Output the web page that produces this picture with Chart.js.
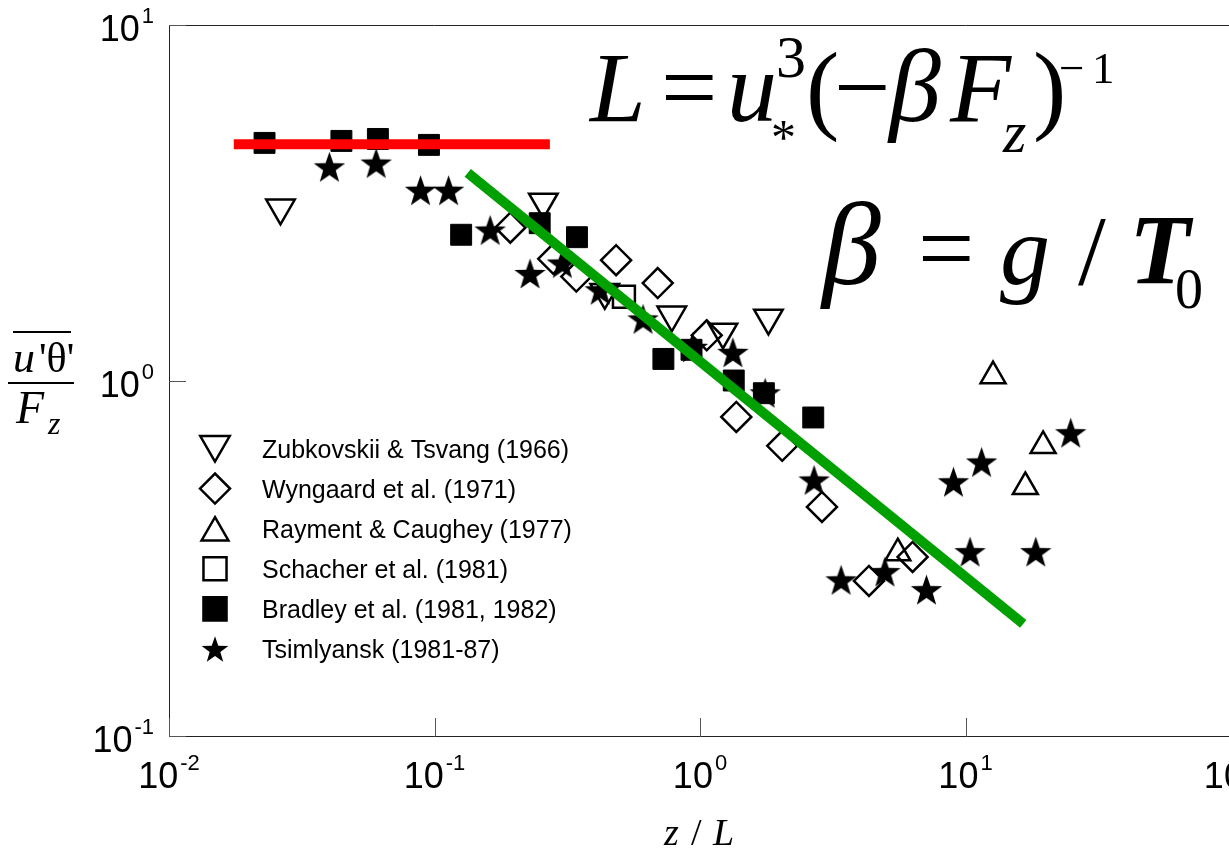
<!DOCTYPE html>
<html>
<head>
<meta charset="utf-8">
<script src="https://cdn.jsdelivr.net/npm/chart.js@4.4.1/dist/chart.umd.min.js"></script>
<style>
  html, body { margin: 0; padding: 0; background: #fff; overflow: hidden; }
  #wrap { width: 1229px; height: 852px; overflow: hidden; }
</style>
</head>
<body>
<div id="wrap"><canvas id="fluxChart" width="1250" height="852"></canvas></div>
<script>
// z/L and u'θ'/Fz, one pair of arrays per data source
var zubX = [0.0263, 0.257, 0.438, 0.783, 1.22, 1.81];
var zubY = [3.06, 3.18, 1.77, 1.53, 1.37, 1.50];

var wynX = [0.193, 0.280, 0.342, 0.483, 0.693, 1.06, 1.37, 2.04, 2.88, 4.33, 6.32];
var wynY = [2.69, 2.20, 1.96, 2.18, 1.88, 1.34, 0.790, 0.655, 0.441, 0.273, 0.319];

var rayX = [5.56, 12.7, 16.8, 19.6];
var rayY = [0.327, 1.03, 0.502, 0.655];

var schX = [0.517];
var schY = [1.72];

var braX = [0.0229, 0.0446, 0.0612, 0.0953, 0.126, 0.249, 0.344, 0.728, 0.929, 1.34, 1.74, 2.67];
var braY = [4.66, 4.72, 4.78, 4.60, 2.57, 2.77, 2.53, 1.15, 1.22, 1.00, 0.921, 0.787];

var tsiX = [0.0402, 0.0603, 0.0886, 0.113, 0.162, 0.229, 0.303, 0.421, 0.610, 0.937, 1.33, 1.76,
            2.69, 3.40, 4.97, 7.13, 9.01, 11.5, 10.4, 18.4, 24.9];
var tsiY = [3.99, 4.09, 3.43, 3.43, 2.65, 2.00, 2.14, 1.80, 1.49, 1.24, 1.20, 0.923,
            0.525, 0.275, 0.290, 0.258, 0.519, 0.590, 0.330, 0.330, 0.713];

// fitted lines: constant (neutral) and power-law (unstable) regimes
var redX = [0.01754, 0.272];
var redY = [4.62, 4.62];
var greenX = [0.1334, 16.5];
var greenY = [3.84, 0.2067];

var sourceNames = [
  'Zubkovskii & Tsvang (1966)',
  'Wyngaard et al. (1971)',
  'Rayment & Caughey (1977)',
  'Schacher et al. (1981)',
  'Bradley et al. (1981, 1982)',
  'Tsimlyansk (1981-87)'
];

var xTickExps = [-2, -1, 0, 1, 2];
var yTickExps = [-1, 0, 1];

var SANS = '"Liberation Sans", Arial, sans-serif';
var SERIF = '"Liberation Serif", "Times New Roman", serif';

function pts(xs, ys) {
  return xs.map(function (x, i) { return { x: x, y: ys[i] }; });
}

function makeStar(r) {
  var c = document.createElement('canvas');
  var s = Math.ceil(r * 2) + 4;
  c.width = s; c.height = s;
  var g = c.getContext('2d');
  g.translate(s / 2, s / 2 + r * 0.095);
  g.beginPath();
  for (var i = 0; i < 10; i++) {
    var rad = i % 2 === 0 ? r : r * 0.4;
    var ang = -Math.PI / 2 + i * Math.PI / 5;
    g.lineTo(Math.cos(ang) * rad, Math.sin(ang) * rad);
  }
  g.closePath();
  g.fillStyle = '#000';
  g.fill();
  return c;
}

var starBig = makeStar(16.5);
var starLegend = makeStar(14);

var hollow = 'rgba(0,0,0,0)';

var datasets = [
  { data: pts(redX, redY), showLine: true, borderColor: '#ff0000', borderWidth: 10, pointRadius: 0 },
  { data: pts(greenX, greenY), showLine: true, borderColor: '#00a000', borderWidth: 10, pointRadius: 0 },
  { data: pts(tsiX, tsiY), pointStyle: starBig, pointRadius: 16 },
  { data: pts(braX, braY), pointStyle: 'rect', pointRadius: 14.8, backgroundColor: '#000', borderColor: '#000', borderWidth: 1 },
  { data: pts(schX, schY), pointStyle: 'rect', pointRadius: 15.5, backgroundColor: hollow, borderColor: '#000', borderWidth: 2.5 },
  { data: pts(rayX, rayY), pointStyle: 'triangle', pointRadius: 14.4, backgroundColor: hollow, borderColor: '#000', borderWidth: 2.5 },
  { data: pts(wynX, wynY), pointStyle: 'rectRot', pointRadius: 15, backgroundColor: hollow, borderColor: '#000', borderWidth: 2.5 },
  { data: pts(zubX, zubY), pointStyle: 'triangle', pointRotation: 180, pointRadius: 16.5, backgroundColor: hollow, borderColor: '#000', borderWidth: 2.5 }
];

// legend marker styles, same order as sourceNames
var legendMarks = [
  { pointStyle: 'triangle', rotation: 180, radius: 17, fill: hollow, dy: -4 },
  { pointStyle: 'rectRot', rotation: 0, radius: 15, fill: hollow, dy: 0 },
  { pointStyle: 'triangle', rotation: 0, radius: 15.5, fill: hollow, dy: 4 },
  { pointStyle: 'rect', rotation: 0, radius: 16.3, fill: hollow, dy: 0 },
  { pointStyle: 'rect', rotation: 0, radius: 16.3, fill: '#000', dy: 0 },
  { pointStyle: starLegend, rotation: 0, radius: 14, fill: '#000', dy: 0 }
];

function drawPow(ctx, exp, x, y, align) {
  ctx.font = '36px ' + SANS;
  var wBase = ctx.measureText('10').width;
  ctx.font = '22px ' + SANS;
  var sup = String(exp);
  var wSup = ctx.measureText(sup).width;
  var start = align === 'center' ? x - (wBase + wSup + 2) / 2 : x - (wBase + wSup + 2);
  ctx.textAlign = 'left';
  ctx.textBaseline = 'alphabetic';
  ctx.font = '36px ' + SANS;
  ctx.fillText('10', start, y);
  ctx.font = '22px ' + SANS;
  ctx.fillText(sup, start + wBase + 2, y - 18);
}

function piece(ctx, s, x, y, font) {
  ctx.font = font + ' ' + SERIF;
  ctx.fillText(s, x, y);
}

var decorations = {
  id: 'decorations',
  afterDraw: function (chart) {
    var ctx = chart.ctx;
    var a = chart.chartArea;
    var xs = chart.scales.x;
    var ys = chart.scales.y;
    ctx.save();

    // frame top and right
    ctx.strokeStyle = '#222';
    ctx.lineWidth = 1;
    ctx.beginPath();
    ctx.moveTo(a.left, a.top + 0.5);
    ctx.lineTo(a.right, a.top + 0.5);
    ctx.moveTo(a.right - 0.5, a.top);
    ctx.lineTo(a.right - 0.5, a.bottom);
    ctx.stroke();

    // inward major ticks on the bottom and left axes
    ctx.strokeStyle = '#555';
    ctx.beginPath();
    xTickExps.forEach(function (e) {
      var px = Math.round(xs.getPixelForValue(Math.pow(10, e))) + 0.5;
      ctx.moveTo(px, a.bottom); ctx.lineTo(px, a.bottom - 18);
    });
    yTickExps.forEach(function (e) {
      var py = Math.round(ys.getPixelForValue(Math.pow(10, e))) + 0.5;
      ctx.moveTo(a.left, py); ctx.lineTo(a.left + 17, py);
    });
    ctx.stroke();

    // tick labels
    ctx.fillStyle = '#000';
    xTickExps.forEach(function (e) {
      drawPow(ctx, e, xs.getPixelForValue(Math.pow(10, e)), a.bottom + 52, 'center');
    });
    yTickExps.forEach(function (e) {
      drawPow(ctx, e, 154, ys.getPixelForValue(Math.pow(10, e)) + 16, 'right');
    });

    // legend
    ctx.textAlign = 'left';
    ctx.textBaseline = 'alphabetic';
    sourceNames.forEach(function (name, i) {
      var rowY = 448.5 + i * 40.1;
      var m = legendMarks[i];
      ctx.fillStyle = m.fill;
      ctx.strokeStyle = '#000';
      ctx.lineWidth = 2.5;
      Chart.helpers.drawPoint(ctx, { pointStyle: m.pointStyle, rotation: m.rotation, radius: m.radius, borderWidth: 2.5 }, 215, rowY + m.dy);
      ctx.fillStyle = '#000';
      ctx.font = '25px ' + SANS;
      ctx.fillText(name, 262, rowY + 9);
    });

    // axis titles
    ctx.fillStyle = '#000';
    piece(ctx, 'z', 664, 845, 'italic 38px');
    piece(ctx, '/', 691, 845, '38px');
    piece(ctx, 'L', 713, 845, 'italic 38px');

    piece(ctx, 'u', 13, 372, 'italic 44px');
    piece(ctx, '\'\u03b8\'', 39, 372, '42px');
    ctx.fillRect(13, 331, 58, 2);
    ctx.fillRect(8, 382, 66, 2);
    piece(ctx, 'F', 16, 423, 'italic 46px');
    piece(ctx, 'z', 48, 434, 'italic 32px');

    // equations
    piece(ctx, 'L', 590, 121, 'italic 100px');
    piece(ctx, '=', 661, 121, '100px');
    piece(ctx, 'u', 727, 121, 'italic 100px');
    piece(ctx, '3', 776, 77, '60px');
    piece(ctx, '*', 771, 154, '50px');
    piece(ctx, '(', 806, 121, '100px');
    piece(ctx, '\u2212', 834, 121, '100px');
    piece(ctx, '\u03b2', 889, 121, 'italic 104px');
    piece(ctx, 'F', 950, 121, 'italic 100px');
    piece(ctx, 'z', 1003, 152, 'italic 60px');
    piece(ctx, ')', 1033, 121, '100px');
    piece(ctx, '\u2212', 1059, 83, '45px');
    piece(ctx, '1', 1092, 83, '45px');

    piece(ctx, '\u03b2', 822, 284, 'italic 118px');
    piece(ctx, '=', 918, 282, '100px');
    piece(ctx, 'g', 1000, 284, 'italic 100px');
    piece(ctx, '/', 1078, 284, '100px');
    piece(ctx, 'T', 1129, 283, 'bold italic 100px');
    piece(ctx, '0', 1175, 308, '56px');

    ctx.restore();
  }
};

new Chart(document.getElementById('fluxChart'), {
  type: 'scatter',
  data: { datasets: datasets },
  options: {
    responsive: false,
    animation: false,
    devicePixelRatio: 1,
    events: [],
    layout: { padding: { left: 169, top: 25, right: 10, bottom: 116 } },
    plugins: { legend: { display: false }, tooltip: { enabled: false } },
    scales: {
      x: {
        type: 'logarithmic',
        min: 0.01,
        max: 100,
        ticks: { display: false },
        grid: { display: false, drawTicks: false },
        border: { display: true, color: '#222', width: 1 }
      },
      y: {
        type: 'logarithmic',
        min: 0.1,
        max: 10,
        ticks: { display: false },
        grid: { display: false, drawTicks: false },
        border: { display: true, color: '#222', width: 1 }
      }
    }
  },
  plugins: [decorations]
});
</script>
</body>
</html>
